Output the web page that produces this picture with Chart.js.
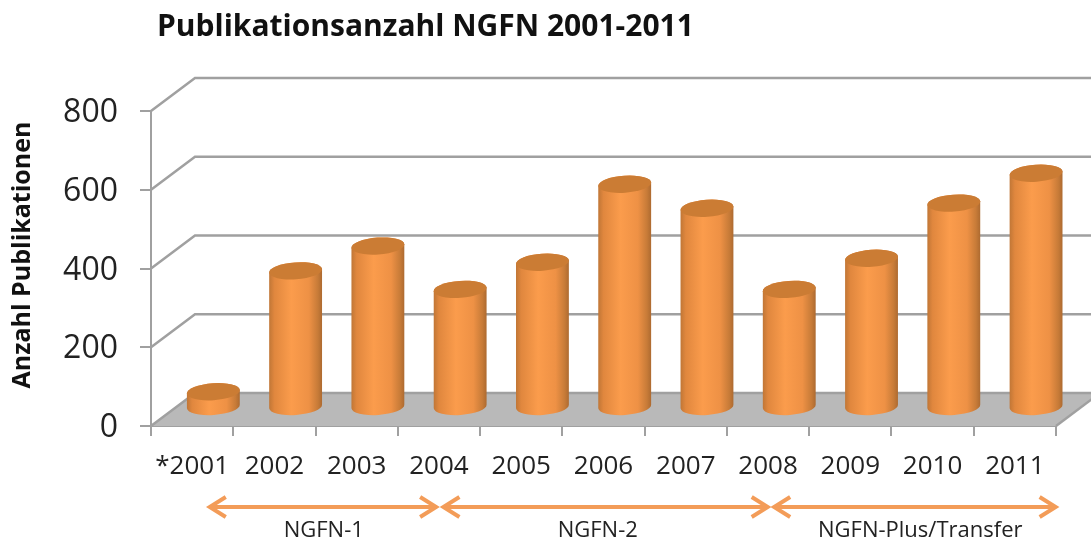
<!DOCTYPE html>
<html>
<head>
<meta charset="utf-8">
<title>Publikationsanzahl NGFN 2001-2011</title>
<script src="https://cdn.jsdelivr.net/npm/chart.js@4/dist/chart.umd.min.js"></script>
<style>
  html, body { margin: 0; padding: 0; background: #fff; overflow: hidden; }
  canvas { display: block; filter: blur(0.4px); }
</style>
</head>
<body>
<canvas id="chart" width="1091" height="540"></canvas>
<script>
const years = ["*2001", "2002", "2003", "2004", "2005", "2006", "2007", "2008", "2009", "2010", "2011"];
const publications = [40, 347, 410, 300, 369, 567, 506, 300, 379, 519, 595];
const yTicks = [0, 200, 400, 600, 800];
const titleText = "Publikationsanzahl NGFN 2001-2011";
const yTitleText = "Anzahl Publikationen";
// funding periods, start/end given in category units
const periodNames = ["NGFN-1", "NGFN-2", "NGFN-Plus/Transfer"];
const periodStart = [0.19, 3.03, 7.05];
const periodEnd = [2.99, 7.02, 10.52];
const periodLabelAt = [1.6, 4.93, 8.85];

const AXIS = "#a0a0a0";
const FONT = '"Open Sans", sans-serif';
const DEPTH_X = 44, DEPTH_Y = 33;

const pseudo3d = {
  id: "pseudo3d",
  afterLayout(chart) {
    chart.titleBlock.left = 157;
  },
  // back wall + floor
  beforeDatasetsDraw(chart) {
    const { ctx, scales: { x, y } } = chart;
    const l = x.left, r = x.right, b = y.getPixelForValue(0);
    ctx.save();
    ctx.fillStyle = "#b9b9b9";
    ctx.beginPath();
    ctx.moveTo(l, b);
    ctx.lineTo(l + DEPTH_X, b - DEPTH_Y);
    ctx.lineTo(r + DEPTH_X, b - DEPTH_Y);
    ctx.lineTo(r, b);
    ctx.closePath();
    ctx.fill();
    ctx.strokeStyle = AXIS;
    ctx.lineWidth = 2.5;
    for (const v of yTicks) {
      const py = y.getPixelForValue(v);
      ctx.beginPath();
      ctx.moveTo(l, py);
      ctx.lineTo(l + DEPTH_X, py - DEPTH_Y);
      ctx.lineTo(r + DEPTH_X, py - DEPTH_Y);
      ctx.stroke();
    }
    ctx.beginPath();
    ctx.moveTo(r, b);
    ctx.lineTo(r + DEPTH_X, b - DEPTH_Y);
    ctx.stroke();
    ctx.restore();
  },
  // cylinders sit half a depth back from the bar rectangles
  afterDatasetsDraw(chart) {
    const { ctx } = chart;
    const tilt = -0.07;
    chart.getDatasetMeta(0).data.forEach((bar) => {
      const cx = bar.x + 21.2;
      const rx = bar.width / 2, ry = 8.5;
      const top = bar.y - 18.5, base = bar.base - 18.5;
      const g = ctx.createLinearGradient(cx - rx, 0, cx + rx, 0);
      g.addColorStop(0, "#c07636");
      g.addColorStop(0.1, "#e0873e");
      g.addColorStop(0.42, "#fb9c4c");
      g.addColorStop(0.75, "#ee9145");
      g.addColorStop(0.92, "#c77b38");
      g.addColorStop(1, "#ad6a30");
      ctx.save();
      ctx.fillStyle = g;
      ctx.beginPath();
      ctx.ellipse(cx, base, rx, ry, tilt, Math.PI, 0, true);
      ctx.ellipse(cx, top, rx, ry, tilt, 0, Math.PI, true);
      ctx.closePath();
      ctx.fill();
      ctx.fillStyle = "#cb7c34";
      ctx.beginPath();
      ctx.ellipse(cx, top, rx, ry, tilt, 0, Math.PI * 2);
      ctx.fill();
      ctx.restore();
    });
  },
  // y title + period arrows below the axis
  afterDraw(chart) {
    const { ctx, scales: { x } } = chart;
    ctx.save();
    ctx.fillStyle = "#111";
    ctx.font = `bold 25px ${FONT}`;
    ctx.textAlign = "center";
    ctx.textBaseline = "middle";
    ctx.translate(23, 255);
    ctx.rotate(-Math.PI / 2);
    ctx.fillText(yTitleText, 0, 0);
    ctx.restore();

    const ay = 507;
    ctx.save();
    ctx.strokeStyle = "#f39c58";
    ctx.lineWidth = 4;
    periodNames.forEach((name, i) => {
      const x0 = x.getPixelForValue(periodStart[i]);
      const x1 = x.getPixelForValue(periodEnd[i]);
      ctx.beginPath();
      ctx.moveTo(x0 + 2, ay);
      ctx.lineTo(x1 - 2, ay);
      ctx.moveTo(x0 + 18, ay - 10);
      ctx.lineTo(x0 + 2, ay);
      ctx.lineTo(x0 + 18, ay + 10);
      ctx.moveTo(x1 - 18, ay - 10);
      ctx.lineTo(x1 - 2, ay);
      ctx.lineTo(x1 - 18, ay + 10);
      ctx.stroke();
      ctx.fillStyle = "#222";
      ctx.font = `22px ${FONT}`;
      ctx.textAlign = "center";
      ctx.textBaseline = "middle";
      ctx.fillText(name, x.getPixelForValue(periodLabelAt[i]), 531);
    });
    ctx.restore();
  },
};

new Chart(document.getElementById("chart"), {
  type: "bar",
  data: {
    labels: years,
    datasets: [{
      label: yTitleText,
      data: publications,
      backgroundColor: "rgba(0,0,0,0)",
      borderWidth: 0,
      barPercentage: 0.644,
      categoryPercentage: 1,
    }],
  },
  options: {
    animation: false,
    responsive: false,
    devicePixelRatio: 1,
    layout: { padding: { left: 0, right: 35, top: 0, bottom: 0 } },
    plugins: {
      legend: { display: false },
      tooltip: { enabled: false },
      title: {
        display: true,
        text: titleText,
        align: "start",
        color: "#111",
        font: { family: FONT, size: 30, weight: "bold", lineHeight: 1.2 },
        padding: { top: 9, bottom: 66 },
      },
    },
    scales: {
      x: {
        afterFit: (s) => { s.height = 114; },
        grid: { drawOnChartArea: false, color: AXIS, tickColor: AXIS, tickLength: 10, lineWidth: 2 },
        border: { color: AXIS, width: 2 },
        ticks: {
          color: "#222", padding: 15, maxRotation: 0, autoSkip: false,
          font: { family: FONT, size: 26 },
        },
      },
      y: {
        min: 0,
        max: 800,
        afterFit: (s) => { s.width = 151; },
        afterBuildTicks: (s) => { s.ticks = yTicks.map(v => ({ value: v })); },
        grid: { drawOnChartArea: false, color: AXIS, tickColor: AXIS, tickLength: 11, lineWidth: 2 },
        border: { color: AXIS, width: 2 },
        ticks: {
          color: "#222", padding: 22, labelOffset: 2,
          font: { family: FONT, size: 32 },
        },
      },
    },
  },
  plugins: [pseudo3d],
});
</script>
</body>
</html>
